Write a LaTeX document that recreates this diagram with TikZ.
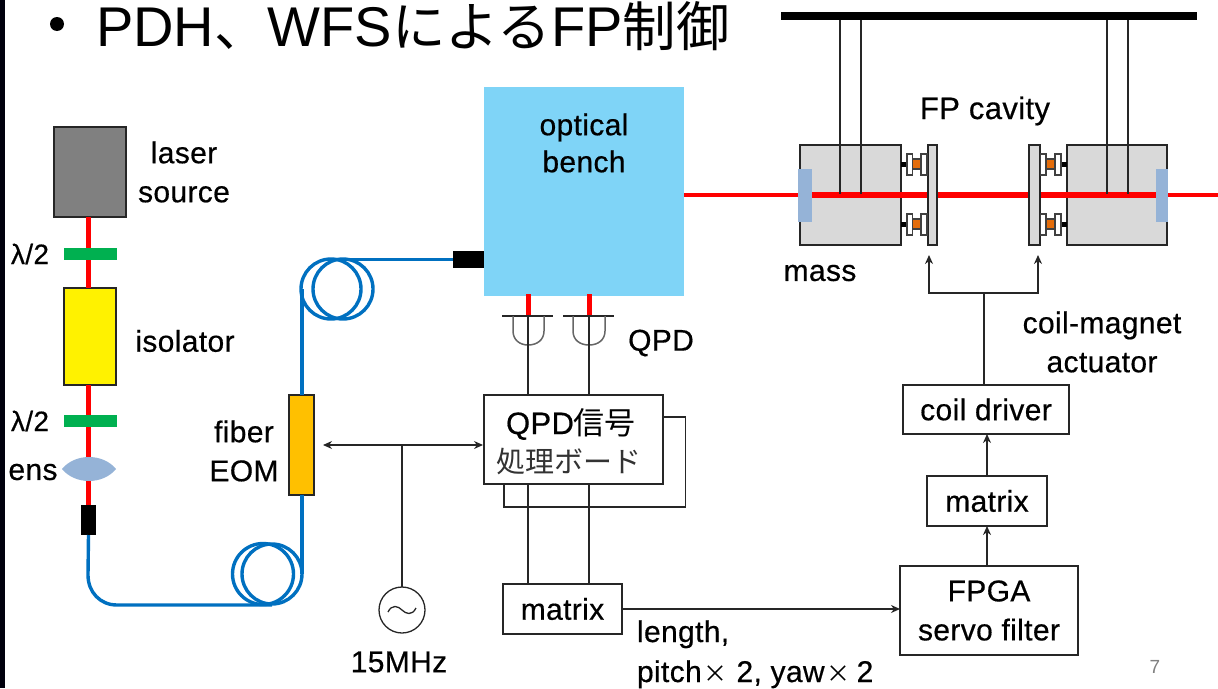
\documentclass[tikz,border=0pt]{standalone}
\usepackage{fontspec}
\setmainfont{Liberation Sans}[LetterSpace=1.2,RawFeature={embolden=0.5}]
\newfontfamily\titlefont{Liberation Sans}
\newfontfamily\cjk{Noto Sans CJK JP}
\usetikzlibrary{arrows.meta}
\definecolor{beam}{HTML}{FF0000}
\definecolor{fiberblue}{HTML}{0070C0}
\definecolor{benchblue}{HTML}{7FD4F7}
\definecolor{massgrey}{HTML}{D9D9D9}
\definecolor{mirrorblue}{HTML}{95B3D7}
\definecolor{wpgreen}{HTML}{00B050}
\definecolor{eomorange}{HTML}{FFC000}
\definecolor{coilorange}{HTML}{E36C0A}
\definecolor{linegrey}{HTML}{262626}
\tikzset{
  px/.style={x=1pt,y=-1pt},
  block/.style={draw=linegrey,line width=1.6pt,fill=white,inner sep=0pt,outer sep=0pt,align=center,
    font=\fontsize{30}{39}\selectfont},
  flat/.style={draw=none,inner sep=0pt,outer sep=0pt},
  lab/.style={inner sep=0pt,outer sep=0pt,align=center,font=\fontsize{30}{39}\selectfont},
  wire/.style={draw=linegrey,line width=1.5pt},
  thinwire/.style={draw=linegrey,line width=1.2pt},
  redbeam/.style={draw=beam,line width=5pt},
  fiber/.style={draw=fiberblue,line width=3.4pt},
  arr/.style={wire,-{Stealth[length=9pt,width=8pt]}},
  darr/.style={thinwire,{Stealth[length=9pt,width=8pt]}-{Stealth[length=9pt,width=8pt]}},
  coilplate/.style={draw=black!75,line width=1.6pt,fill=white},
  coilcore/.style={draw=black!75,line width=1.2pt,fill=coilorange},
}
% name, x1, y1, x2, y2, style, text
\newcommand\bx[7]{\node[#6,minimum width={(#4-#2)*1pt},minimum height={(#5-#3)*1pt}] (#1) at ({(#2+#4)/2},{(#3+#5)/2}) {#7};}
\newcommand\smx{\hskip2pt{\cjk\fontsize{24}{24}\selectfont ×}}
\begin{document}
\begin{tikzpicture}[px]
\useasboundingbox (0,0) rectangle (1218,688);
\fill[black!95!blue] (0,0) rectangle (5,688);
% title
\fill (57,24) circle[radius=7pt];
\node[lab,anchor=base west,font=\titlefont\fontsize{56}{56}\selectfont] (title) at (96,46) {PDH{\cjk\fontsize{53.5}{53.5}\selectfont 、}WFS{\cjk\fontsize{53.5}{53.5}\selectfont による}FP{\cjk\fontsize{53.5}{53.5}\selectfont 制御}};
% laser chain
\bx{laser}{54}{127}{126}{217}{block,fill=black!50}{}
\bx{iso}{64}{288}{116}{385}{block,fill=yellow}{}
\bx{conA}{81}{505}{96}{535}{flat,fill=black}{}
\draw[redbeam] (laser.south -| conA) -- (iso.north -| conA);
\draw[redbeam] (iso.south -| conA) -- (conA.north);
\bx{wpA}{64}{248}{117}{260}{flat,fill=wpgreen}{}
\bx{wpB}{64}{415}{117}{427}{flat,fill=wpgreen}{}
\fill[mirrorblue] (62,469) .. controls (75,453) and (103,453) .. (116,469) .. controls (103,485) and (75,485) .. (62,469) -- cycle;
\node[lab] (llaser) at (184,172) {laser\\source};
\node[lab] (liso) at (185,341) {isolator};
\node[lab,font=\fontsize{28}{28}\selectfont] (lamA) at (30,254) {λ/2};
\node[lab,font=\fontsize{28}{28}\selectfont] (lamB) at (30,421) {λ/2};
\node[lab] (lens) at (33,472) {ens};
% fibre
\bx{eom}{289}{395}{314}{495}{block,fill=eomorange}{}
\bx{conB}{453}{251}{485}{268}{flat,fill=black}{}
\draw[fiber] (conA.south) -- (88,575) .. controls (88,592) and (100,605) .. (117,605) -- (272,605);
\draw[fiber] (263,574) circle[radius=30.5pt];
\draw[fiber] (272,574) circle[radius=30pt];
\draw[fiber] (302,574) -- (eom.south -| 302,0);
\draw[fiber] (eom.north -| 302,0) -- (302,289);
\draw[fiber] (331,289) circle[radius=30pt];
\draw[fiber] (343,289) circle[radius=30pt];
\draw[fiber] (331,259.5) -- (conB.west);
\node[lab] (leom) at (244,451) {fiber\\EOM};
% bench
\bx{bench}{484}{87}{684}{296}{flat,fill=benchblue}{}
\node[lab,font=\fontsize{30}{37}\selectfont] (lbench) at (584,143) {optical\\bench};
% QPDs
\coordinate (qa) at (528,316);
\coordinate (qb) at (589,316);
\draw[redbeam] (528,294) -- (qa);
\draw[redbeam] (589,294) -- (qb);
\draw[wire] (502,316) -- (553,316);
\draw[wire] (563,316) -- (614,316);
\draw[draw=black!60,line width=1.5pt] (513,316) -- (513,331) .. controls (513,340) and (520,345) .. (528,345) .. controls (537,345) and (544,340) .. (544,331) -- (544,316);
\draw[draw=black!60,line width=1.5pt] (573,316) -- (573,331) .. controls (573,340) and (580,345) .. (589,345) .. controls (598,345) and (605,340) .. (605,331) -- (605,316);
\node[lab] (lqpd) at (661,343) {QPD};
\bx{board}{484}{395}{663}{484}{block}{}
\node[lab,font=\fontsize{31}{31}\selectfont] (lba) at (571,424) {QPD{\cjk 信号}};
\node[lab,font=\fontsize{29}{29}\cjk\selectfont,text=black!80] (lbb) at (569,462) {処理ボード};
\bx{mxa}{503}{584}{622}{634}{block}{\raisebox{-1pt}{matrix}}
\draw[wire] (qa) -- (qa |- board.north);
\draw[wire] (qb) -- (qb |- board.north);
\draw[wire] (qa |- board.south) -- (qa |- mxa.north);
\draw[wire] (qb |- board.south) -- (qb |- mxa.north);
\draw[wire] (663,417) -- (685.5,417) -- (685.5,507) -- (504,507) -- (504,484);
% oscillator
\node[draw=linegrey,line width=1.3pt,circle,minimum size=46pt,inner sep=0pt,outer sep=0pt] (osc) at (402,610) {};
\draw[line width=1.3pt,linegrey] (388,612) .. controls (392,604) and (398,606) .. (402,610) .. controls (406,614) and (412,616) .. (416,608);
\node[lab] (losc) at (399,662) {15MHz};
\draw[darr] (323,445) -- (483,445);
\draw[wire] (osc.north) -- (402,445);
% right chain
\bx{fpga}{900}{566}{1078}{655}{block}{\raisebox{-1pt}{FPGA}\\\raisebox{-1pt}{servo filter}}
\bx{mxb}{927}{476}{1047}{526}{block}{\raisebox{-2pt}{matrix}}
\bx{drv}{903}{385}{1069}{434}{block}{\raisebox{-2pt}{coil driver}}
\draw[arr] (mxa.east) -- (fpga.west |- mxa.east);
\draw[arr] (987,566) -- (987,526);
\draw[arr] (987,476) -- (987,434);
\node[lab,anchor=base west] (lpa) at (637,642) {length,};
\node[lab,anchor=base west] (lpb) at (637,682) {pitch\smx\ 2, yaw\smx\hskip6pt 2};
% suspension bar
\bx{bar}{781}{12}{1197}{20}{flat,fill=black}{}
% masses
\bx{mL}{800}{145}{901}{245}{block,fill=massgrey}{}
\bx{mR}{1067}{145}{1167}{245}{block,fill=massgrey}{}
\draw[beam,line width=4pt] (684,195) -- (1218,195);
\draw[beam,line width=6pt] (812,195) -- (1156,195);
\foreach \xw in {840,861,1107,1128}
  \draw[thinwire] (\xw,20) -- (\xw,194);
\bx{pL}{928}{145}{937}{245}{block,fill=massgrey}{}
\bx{pR}{1029}{145}{1040}{245}{block,fill=massgrey}{}
\bx{mirL}{798}{169}{812}{222}{flat,fill=mirrorblue}{}
\bx{mirR}{1156}{169}{1168}{222}{flat,fill=mirrorblue}{}
% actuators
\foreach \yy in {164,224}{
  \draw[black,line width=5pt] (901,\yy) -- (907,\yy);
  \draw[black,line width=5pt] (1061,\yy) -- (1067,\yy);
  \draw[coilcore] (912,\yy-5) rectangle (921,\yy+5);
  \draw[coilcore] (1046,\yy-5) rectangle (1055,\yy+5);
  \draw[coilplate] (907,\yy-10) rectangle (912.5,\yy+11);
  \draw[coilplate] (921,\yy-10) rectangle (927,\yy+11);
  \draw[coilplate] (1040.5,\yy-10) rectangle (1046,\yy+11);
  \draw[coilplate] (1055,\yy-10) rectangle (1061,\yy+11);
}
\node[lab,font=\fontsize{31}{31}\selectfont] (lfp) at (985,111) {FP cavity};
\node[lab] (lmass) at (820,273) {mass};
\coordinate (br) at (984,293);
\draw[wire] (drv.north -| br) -- (br);
\draw[arr] (br) -| (929,255);
\draw[arr] (br) -| (1038,255);
\node[lab] (lact) at (1102,342) {coil-magnet\\actuator};
\node[inner sep=0pt,text=black!50,font=\fontsize{19}{19}\titlefont\selectfont] (pg) at (1155,667) {7};
\end{tikzpicture}
\end{document}
